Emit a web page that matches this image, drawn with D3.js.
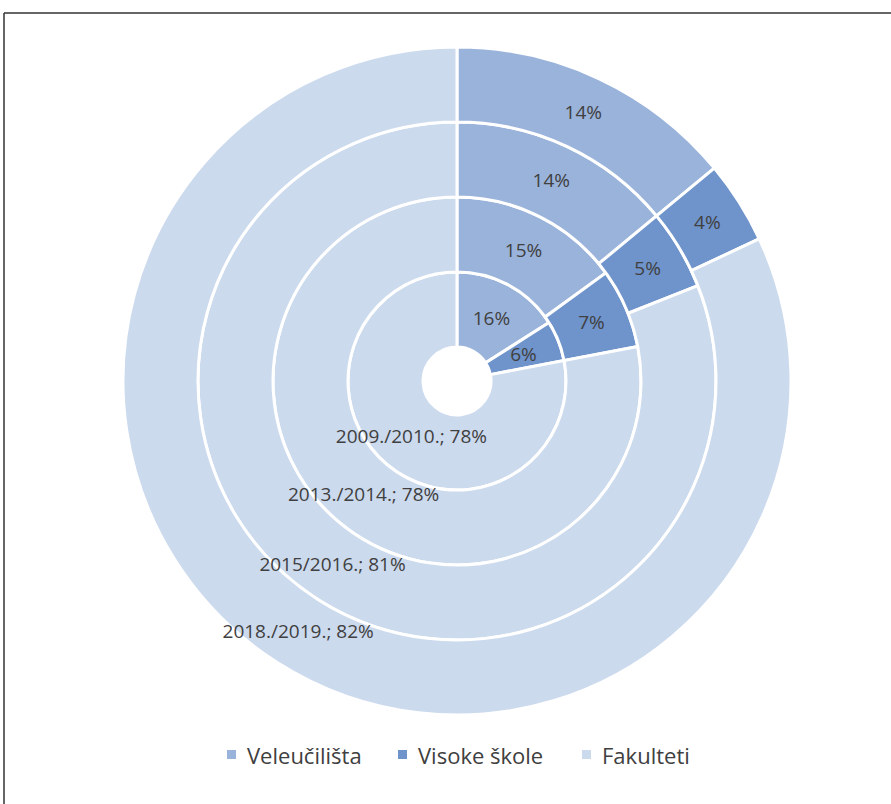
<!DOCTYPE html>
<html><head><meta charset="utf-8">
<script src="https://cdn.jsdelivr.net/npm/d3@7"></script>
<style>body{margin:0;background:#fff;} text{font-family:"Open Sans","Noto Sans",sans-serif;}</style>
</head><body>
<svg id="c" width="891" height="804"></svg>
<script>
const years = ["2009./2010.", "2013./2014.", "2015/2016.", "2018./2019."];
const categories = ["Veleučilišta", "Visoke škole", "Fakulteti"];
const veleucilista = [16, 15, 14, 14];
const visokeSkole = [6, 7, 5, 4];
const fakulteti = [78, 78, 81, 82];
const colors = ["#9AB3DB", "#6F93CB", "#CCDAEE"];

const svg = d3.select("#c");
// frame
svg.append("line").attr("x1",4).attr("x2",891).attr("y1",13).attr("y2",13).attr("stroke","#333").attr("stroke-width",1.5);
svg.append("line").attr("x1",4).attr("x2",4).attr("y1",13).attr("y2",804).attr("stroke","#333").attr("stroke-width",1.5);

const cx = 457, cy = 381, rHole = 34, rOuter = 334;
const ringR = d3.scaleLinear().domain([0, years.length]).range([rHole, rOuter]);
const g = svg.append("g").attr("transform", `translate(${cx},${cy})`);
const pie = d3.pie().sort(null).value(d => d.v);

const rings = years.map((yr, i) => {
  const data = [veleucilista[i], visokeSkole[i], fakulteti[i]].map((v, k) => ({v, k, yr}));
  return {arcs: pie(data), arc: d3.arc().innerRadius(ringR(i)).outerRadius(ringR(i + 1))};
});
const gp = g.append("g"), gt = g.append("g");
rings.forEach(r => {
  gp.selectAll(null).data(r.arcs).enter().append("path")
    .attr("d", r.arc).attr("fill", d => colors[d.data.k])
    .attr("stroke", "#fff").attr("stroke-width", 3);
  gt.selectAll(null).data(r.arcs).enter().append("text")
    .attr("transform", d => `translate(${r.arc.centroid(d)})`)
    .attr("text-anchor", "middle").attr("dy", "0.35em")
    .attr("font-size", 19).attr("fill", "#404040")
    .text(d => d.data.k === 2 ? `${d.data.yr}; ${d.data.v}%` : `${d.data.v}%`);
});

// legend
const legX = [247, 418, 602];
const lg = svg.append("g");
categories.forEach((c, k) => {
  lg.append("rect").attr("x", legX[k] - 20).attr("y", 750).attr("width", 9).attr("height", 9).attr("fill", colors[k]);
  lg.append("text").attr("x", legX[k]).attr("y", 756).attr("dy", "0.35em")
    .attr("font-size", 22).attr("fill", "#404040").text(c);
});
</script>
</body></html>
